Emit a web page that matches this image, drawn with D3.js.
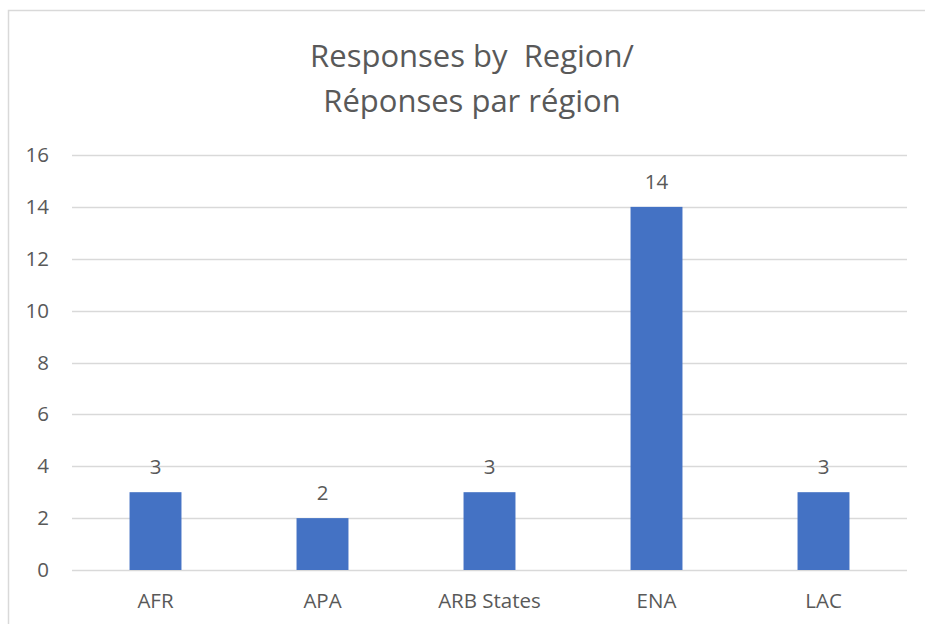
<!DOCTYPE html>
<html>
<head>
<meta charset="utf-8">
<script src="https://cdn.jsdelivr.net/npm/d3@7"></script>
<style>
  body { margin: 0; background: #fff; }
  svg { display: block; }
  text { font-family: "Open Sans", "Noto Sans", sans-serif; fill: #595959; }
</style>
</head>
<body>
<svg id="chart" width="925" height="624"></svg>
<script>
// chart data
var categories = ["AFR", "APA", "ARB States", "ENA", "LAC"];
var responses = [3, 2, 3, 14, 3];
var yTicks = [0, 2, 4, 6, 8, 10, 12, 14, 16];
var titleLines = ["Responses by  Region/", "Réponses par région"];

var svg = d3.select("#chart");

// chart area border (runs off the right and bottom edges)
svg.append("rect")
    .attr("x", 8.5).attr("y", 10.5)
    .attr("width", 940).attr("height", 640)
    .attr("fill", "#fff")
    .attr("stroke", "#d9d9d9")
    .attr("stroke-width", 1.5);

var plot = { left: 72, right: 907, top: 155, bottom: 570 };

var x = d3.scaleBand()
    .domain(categories)
    .range([plot.left, plot.right])
    .paddingInner(0.689)
    .paddingOuter(0.3445);

var y = d3.scaleLinear()
    .domain([0, 16])
    .range([plot.bottom, plot.top]);

// title (keeps the double space)
svg.append("g").selectAll("text")
    .data(titleLines)
    .join("text")
    .attr("x", 472)
    .attr("y", function (d, i) { return 67 + i * 45; })
    .attr("text-anchor", "middle")
    .style("font-size", "31px")
    .style("white-space", "pre")
    .text(function (d) { return d; });

// gridlines
svg.append("g").selectAll("line")
    .data(yTicks)
    .join("line")
    .attr("x1", plot.left).attr("x2", plot.right)
    .attr("y1", function (d) { return Math.round(y(d)) + 0.5; })
    .attr("y2", function (d) { return Math.round(y(d)) + 0.5; })
    .attr("stroke", "#d9d9d9")
    .attr("stroke-width", 1.3);

// y axis labels
var yAxis = d3.axisLeft(y).tickValues(yTicks).tickSize(0).tickPadding(0);
svg.append("g")
    .attr("transform", "translate(49,0)")
    .call(yAxis)
    .call(function (g) { g.select(".domain").remove(); })
    .selectAll("text")
    .style("font-size", "20.5px")
    .style("font-family", "\"Open Sans\", sans-serif")
    .attr("fill", "#595959");

// bars
svg.append("g").selectAll("rect")
    .data(responses)
    .join("rect")
    .attr("x", function (d, i) { return x(categories[i]); })
    .attr("y", function (d) { return y(d); })
    .attr("width", x.bandwidth())
    .attr("height", function (d) { return y(0) - y(d); })
    .attr("fill", "#4472c4");

// value labels
svg.append("g").selectAll("text")
    .data(responses)
    .join("text")
    .attr("x", function (d, i) { return x(categories[i]) + x.bandwidth() / 2; })
    .attr("y", function (d) { return y(d) - 18; })
    .attr("text-anchor", "middle")
    .style("font-size", "20.5px")
    .text(function (d) { return d; });

// category labels
var xAxis = d3.axisBottom(x).tickSize(0).tickPadding(0);
svg.append("g")
    .attr("transform", "translate(0," + (plot.bottom + 23) + ")")
    .call(xAxis)
    .call(function (g) { g.select(".domain").remove(); })
    .selectAll("text")
    .style("font-size", "20.5px")
    .style("font-family", "\"Open Sans\", sans-serif")
    .attr("fill", "#595959");
</script>
</body>
</html>
